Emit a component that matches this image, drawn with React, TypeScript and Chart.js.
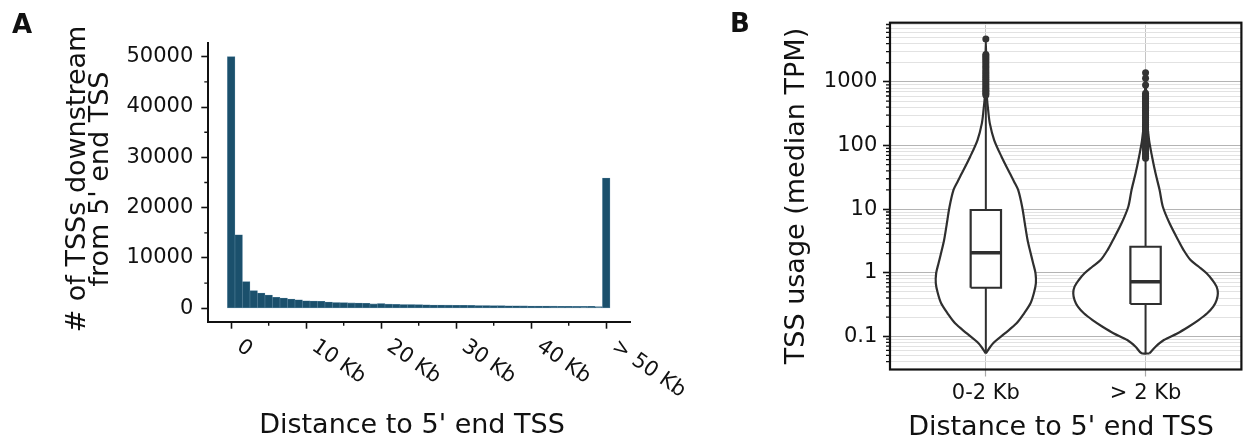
import React, { useEffect, useRef } from "react";
import { Chart, registerables } from "chart.js";

Chart.register(...registerables);

const FONT = "'DejaVu Sans', 'Liberation Sans', sans-serif";
const INK = "#111111";

// ---------------- Panel A: histogram of distances ----------------
const histBinsKb = [
  0, 1, 2, 3, 4, 5, 6, 7, 8, 9, 10, 11, 12, 13, 14, 15, 16, 17, 18, 19, 20, 21, 22, 23, 24, 25,
  26, 27, 28, 29, 30, 31, 32, 33, 34, 35, 36, 37, 38, 39, 40, 41, 42, 43, 44, 45, 46, 47, 48, 49, 50,
];
const histCounts = [
  50000, 14600, 5300, 3500, 3050, 2650, 2200, 2050, 1850, 1700, 1500, 1450, 1400, 1250, 1150, 1130,
  1080, 1050, 1000, 880, 940, 820, 780, 760, 740, 720, 690, 660, 640, 620, 600, 590, 570, 560, 540,
  530, 520, 500, 490, 470, 460, 450, 440, 420, 410, 400, 380, 370, 400, 330, 25900,
];
const histMajorTicks = [0, 10, 20, 30, 40, 50];
const histTickLabels = ["0", "10 Kb", "20 Kb", "30 Kb", "40 Kb", "> 50 Kb"];
const histMinorTicks = [5, 15, 25, 35, 45];
const countMajorTicks = [0, 10000, 20000, 30000, 40000, 50000];
const countMinorTicks = [5000, 15000, 25000, 35000, 45000];
const histYTitle = ["# of TSSs downstream", "from 5' end TSS"];
const distanceTitle = "Distance to 5' end TSS";

// ---------------- Panel B: violin + box plots ----------------
const groupLabels = ["0-2 Kb", "> 2 Kb"];
const nearTpm = [
  0.054, 0.0776, 0.111, 0.16, 0.23, 0.33, 0.474, 0.681, 0.98, 1.41, 2.27, 3.27, 5.98, 10.9, 20, 27,
  36.5, 66.7, 122, 223, 361, 600, 1500, 4720,
];
const nearDensity = [
  0, 0.101, 0.263, 0.425, 0.53, 0.618, 0.664, 0.692, 0.687, 0.654, 0.609, 0.577, 0.539, 0.502,
  0.447, 0.391, 0.332, 0.217, 0.115, 0.055, 0.032, 0.014, 0.007, 0,
];
const farTpm = [
  0.054, 0.0686, 0.0875, 0.111, 0.1416, 0.18, 0.23, 0.292, 0.372, 0.474, 0.603, 0.767, 0.98, 1.24,
  1.58, 2.27, 3.27, 5.98, 10.9, 20, 36.5, 66.7, 122, 251, 519, 1395,
];
const farDensity = [
  0.055, 0.138, 0.253, 0.438, 0.595, 0.733, 0.853, 0.936, 0.982, 1.0, 0.982, 0.923, 0.844, 0.737,
  0.622, 0.526, 0.45, 0.332, 0.239, 0.194, 0.138, 0.09, 0.048, 0.021, 0.01, 0,
];
const boxQ1 = [0.58, 0.322];
const boxMedian = [2.06, 0.72];
const boxQ3 = [9.68, 2.56];
const whiskerLow = [0.054, 0.054];
const whiskerHigh = [600, 60];
const nearOutliers = [
  4720, 2700, 2550, 2400, 2250, 2100, 1950, 1800, 1680, 1560, 1450, 1350, 1260, 1180, 1100, 1030,
  960, 900, 840, 790, 740, 700, 660, 625,
];
const farOutliers = [
  1395, 1138, 893, 662, 625, 590, 555, 520, 490, 460, 432, 405, 380, 357, 335, 315, 296, 278, 261,
  245, 230, 216, 203, 191, 179, 168, 158, 148, 139, 131, 123, 115, 108, 102, 96, 90, 85, 80, 75, 71,
  67, 63,
];
const usageMajorTicks = [0.1, 1, 10, 100, 1000];
const usageTickLabels = ["0.1", "1", "10", "100", "1000"];
const usageDecades = [0.01, 0.1, 1, 10, 100, 1000];
const usageYTitle = "TSS usage (median TPM)";

const VIOLIN_HALF = 0.4527; // category units for density 1
const BOX_HALF = 0.095;

function isMajorUsage(v: number) {
  return usageMajorTicks.some((t) => Math.abs(t - v) / t < 1e-6);
}

function violinPath(center: number, values: number[], density: number[]) {
  const right = values.map((v, i) => ({ x: center + density[i] * VIOLIN_HALF, y: v }));
  const left = values.map((v, i) => ({ x: center - density[i] * VIOLIN_HALF, y: v })).reverse();
  return [...right, ...left.slice(1), right[0]];
}

const panelAPlugin = {
  id: "panelA",
  afterDraw(chart: any) {
    const { ctx, chartArea, scales } = chart;
    const xs = scales.x;
    const ys = scales.y;
    ctx.save();
    ctx.strokeStyle = INK;
    ctx.lineWidth = 1.4;
    ctx.beginPath();
    countMinorTicks.forEach((v) => {
      const y = ys.getPixelForValue(v);
      ctx.moveTo(chartArea.left - 4, y);
      ctx.lineTo(chartArea.left, y);
    });
    histMinorTicks.forEach((v) => {
      const x = xs.getPixelForValue(v);
      ctx.moveTo(x, chartArea.bottom);
      ctx.lineTo(x, chartArea.bottom + 4);
    });
    ctx.stroke();

    ctx.fillStyle = INK;
    ctx.font = `21px ${FONT}`;
    ctx.textAlign = "left";
    ctx.textBaseline = "alphabetic";
    histMajorTicks.forEach((v, i) => {
      const x = xs.getPixelForValue(v);
      ctx.save();
      ctx.translate(x + 4.5, 349);
      ctx.rotate((35 * Math.PI) / 180);
      ctx.fillText(histTickLabels[i], 0, 0);
      ctx.restore();
    });

    ctx.font = `27px ${FONT}`;
    ctx.textAlign = "center";
    ctx.fillText(distanceTitle, 412, 433);
    [85, 108].forEach((bx, i) => {
      ctx.save();
      ctx.translate(bx, 179);
      ctx.rotate(-Math.PI / 2);
      ctx.fillText(histYTitle[i], 0, 0);
      ctx.restore();
    });

    ctx.font = `bold 26px ${FONT}`;
    ctx.textAlign = "left";
    ctx.fillText("A", 12, 33);
    ctx.restore();
  },
};

const panelBPlugin = {
  id: "panelB",
  afterDraw(chart: any) {
    const { ctx, chartArea, scales } = chart;
    const ys = scales.y;
    ctx.save();
    ctx.strokeStyle = INK;
    ctx.lineWidth = 1.3;
    ctx.beginPath();
    ys.ticks.forEach((t: any) => {
      if (isMajorUsage(t.value)) return;
      const y = ys.getPixelForValue(t.value);
      ctx.moveTo(chartArea.left - 4, y);
      ctx.lineTo(chartArea.left, y);
    });
    ctx.stroke();

    ctx.lineWidth = 2.2;
    ctx.strokeRect(
      chartArea.left,
      chartArea.top,
      chartArea.right - chartArea.left,
      chartArea.bottom - chartArea.top
    );

    ctx.fillStyle = INK;
    ctx.font = `27px ${FONT}`;
    ctx.textAlign = "center";
    ctx.textBaseline = "alphabetic";
    ctx.fillText(distanceTitle, 361, 435);
    ctx.save();
    ctx.translate(104, 196);
    ctx.rotate(-Math.PI / 2);
    ctx.fillText(usageYTitle, 0, 0);
    ctx.restore();

    ctx.font = `bold 26px ${FONT}`;
    ctx.textAlign = "left";
    ctx.fillText("B", 30, 32);
    ctx.restore();
  },
};

export default function App() {
  const refA = useRef<HTMLCanvasElement | null>(null);
  const refB = useRef<HTMLCanvasElement | null>(null);

  useEffect(() => {
    if (!refA.current || !refB.current) return;

    const tickGrid = {
      display: true,
      drawOnChartArea: false,
      drawTicks: true,
      tickLength: 7,
      tickWidth: 1.6,
      tickColor: INK,
      offset: false,
    };
    const spine = { display: true, color: INK, width: 2 };

    const chartA = new Chart(refA.current, {
      type: "bar",
      data: {
        datasets: [
          {
            data: histBinsKb.map((x, i) => ({ x, y: histCounts[i] })),
            backgroundColor: "#1b506c",
            borderColor: "#4f7c97",
            borderWidth: 0.6,
            borderSkipped: false,
            barPercentage: 1,
            categoryPercentage: 1,
          },
        ],
      },
      options: {
        responsive: false,
        animation: false,
        devicePixelRatio: 1,
        layout: { padding: { top: 43, right: 70, left: 0, bottom: 0 } },
        plugins: {
          legend: { display: false },
          tooltip: { enabled: false },
          title: { display: false },
        },
        scales: {
          x: {
            type: "linear",
            offset: false,
            min: -3.05,
            max: 53.17,
            afterBuildTicks: (s: any) => {
              s.ticks = histMajorTicks.map((v) => ({ value: v }));
            },
            afterFit: (s: any) => {
              s.height = 122.3;
            },
            ticks: { display: false },
            grid: tickGrid,
            border: spine,
          },
          y: {
            type: "linear",
            min: -2660,
            max: 52720,
            afterBuildTicks: (s: any) => {
              s.ticks = countMajorTicks.map((v) => ({ value: v }));
            },
            afterFit: (s: any) => {
              s.width = 208.3;
            },
            ticks: {
              font: { family: FONT, size: 21 },
              color: INK,
              padding: 8,
              callback: (v: any) => String(v),
            },
            grid: tickGrid,
            border: spine,
          },
        },
      } as any,
      plugins: [panelAPlugin],
    });

    const lineCol = "#2f2f2f";
    const datasets: any[] = [];
    const violins = [
      { values: nearTpm, density: nearDensity },
      { values: farTpm, density: farDensity },
    ];
    violins.forEach((vio, g) => {
      datasets.push({
        type: "line",
        data: violinPath(g, vio.values, vio.density),
        borderColor: lineCol,
        borderWidth: 2.2,
        backgroundColor: "#ffffff",
        fill: "shape",
        pointRadius: 0,
        tension: 0.3,
        order: 5,
      });
      datasets.push({
        type: "line",
        data: [
          { x: g, y: whiskerLow[g] },
          { x: g, y: whiskerHigh[g] },
        ],
        borderColor: lineCol,
        borderWidth: 2,
        pointRadius: 0,
        fill: false,
        order: 4,
      });
      datasets.push({
        type: "line",
        data: [
          { x: g - BOX_HALF, y: boxQ1[g] },
          { x: g + BOX_HALF, y: boxQ1[g] },
          { x: g + BOX_HALF, y: boxQ3[g] },
          { x: g - BOX_HALF, y: boxQ3[g] },
          { x: g - BOX_HALF, y: boxQ1[g] },
        ],
        borderColor: lineCol,
        borderWidth: 2.2,
        borderJoinStyle: "miter",
        backgroundColor: "#ffffff",
        fill: "shape",
        pointRadius: 0,
        tension: 0,
        order: 3,
      });
      datasets.push({
        type: "line",
        data: [
          { x: g - BOX_HALF, y: boxMedian[g] },
          { x: g + BOX_HALF, y: boxMedian[g] },
        ],
        borderColor: lineCol,
        borderWidth: 3.5,
        borderCapStyle: "butt",
        pointRadius: 0,
        fill: false,
        order: 2,
      });
    });
    [nearOutliers, farOutliers].forEach((outs, g) => {
      datasets.push({
        type: "line",
        showLine: false,
        data: outs.map((v) => ({ x: g, y: v })),
        pointRadius: 3.5,
        pointBackgroundColor: "#333333",
        pointBorderWidth: 0,
        pointBorderColor: "#333333",
        fill: false,
        order: 1,
      });
    });

    const chartB = new Chart(refB.current, {
      type: "line",
      data: { datasets },
      options: {
        responsive: false,
        animation: false,
        devicePixelRatio: 1,
        layout: { padding: { top: 22.7, right: 6.6, left: 0, bottom: 0 } },
        plugins: {
          legend: { display: false },
          tooltip: { enabled: false },
          title: { display: false },
        },
        scales: {
          x: {
            type: "linear",
            min: -0.6,
            max: 1.6,
            afterBuildTicks: (s: any) => {
              s.ticks = groupLabels.map((_, i) => ({ value: i }));
            },
            afterFit: (s: any) => {
              s.height = 74.5;
            },
            ticks: {
              font: { family: FONT, size: 21 },
              color: INK,
              padding: 4,
              callback: (_v: any, i: number) => groupLabels[i],
            },
            grid: {
              display: true,
              drawOnChartArea: true,
              color: "#c4c4c4",
              lineWidth: 1,
              drawTicks: true,
              tickLength: 7,
              tickColor: "#a8a8a8",
              tickWidth: 1.2,
            },
            border: { display: false },
          },
          y: {
            type: "logarithmic",
            min: 0.03006,
            max: 8531,
            afterBuildTicks: (s: any) => {
              const t: any[] = [];
              usageDecades.forEach((d) => {
                for (let k = 1; k <= 9; k++) {
                  const v = Number((d * k).toPrecision(6));
                  if (v >= s.min && v <= s.max) t.push({ value: v });
                }
              });
              s.ticks = t;
            },
            afterFit: (s: any) => {
              s.width = 190;
            },
            ticks: {
              autoSkip: false,
              font: { family: FONT, size: 21 },
              color: INK,
              padding: 5.7,
              callback: (v: any) => {
                const idx = usageMajorTicks.findIndex((t) => Math.abs(t - v) / t < 1e-6);
                return idx >= 0 ? usageTickLabels[idx] : "";
              },
            },
            grid: {
              display: true,
              drawOnChartArea: true,
              color: (c: any) => (c.tick && isMajorUsage(c.tick.value) ? "#b4b4b4" : "#e2e2e2"),
              lineWidth: 1,
              drawTicks: true,
              tickLength: 7,
              tickWidth: 1.6,
              tickColor: (c: any) =>
                c.tick && isMajorUsage(c.tick.value) ? INK : "rgba(0,0,0,0)",
            },
            border: { display: false },
          },
        },
      } as any,
      plugins: [panelBPlugin],
    });

    return () => {
      chartA.destroy();
      chartB.destroy();
    };
  }, []);

  return (
    <div
      style={{
        position: "absolute",
        left: 0,
        top: 0,
        width: 1248,
        height: 444,
        background: "#ffffff",
        overflow: "hidden",
      }}
    >
      <canvas
        ref={refA}
        width={700}
        height={444}
        style={{ position: "absolute", left: 0, top: 0, width: 700, height: 444 }}
      />
      <canvas
        ref={refB}
        width={548}
        height={444}
        style={{ position: "absolute", left: 700, top: 0, width: 548, height: 444 }}
      />
    </div>
  );
}
